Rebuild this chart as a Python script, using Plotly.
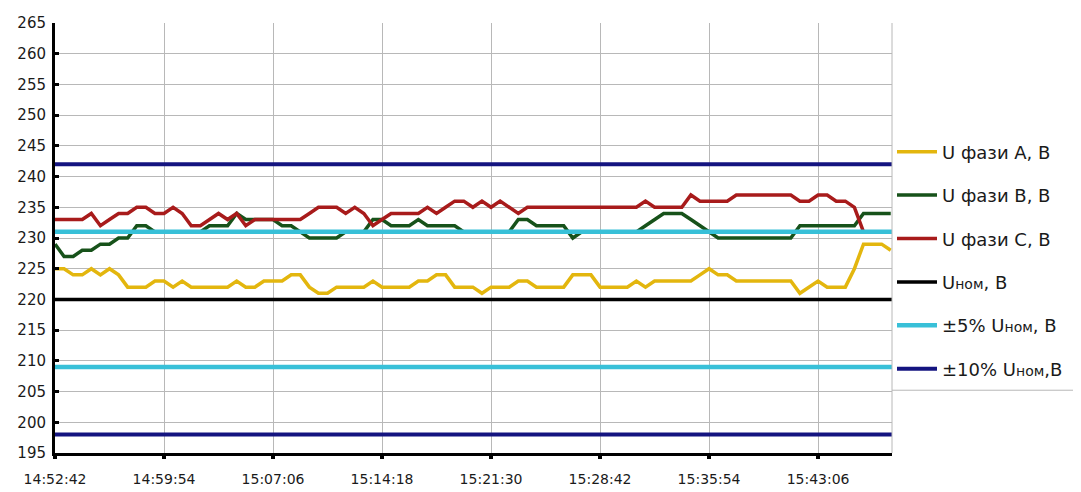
import plotly.graph_objects as go
import pandas as pd

# ---- data ----
START = "2021-01-01 14:52:42"
END = "2021-01-01 15:47:59"
STEP = "36s"

u_a = [225, 225, 224, 224, 225, 224, 225, 224, 222, 222,
       222, 223, 223, 222, 223, 222, 222, 222, 222, 222,
       223, 222, 222, 223, 223, 223, 224, 224, 222, 221,
       221, 222, 222, 222, 222, 223, 222, 222, 222, 222,
       223, 223, 224, 224, 222, 222, 222, 221, 222, 222,
       222, 223, 223, 222, 222, 222, 222, 224, 224, 224,
       222, 222, 222, 222, 223, 222, 223, 223, 223, 223,
       223, 224, 225, 224, 224, 223, 223, 223, 223, 223,
       223, 223, 221, 222, 223, 222, 222, 222, 225, 229,
       229, 229, 228]

u_b = [229, 227, 227, 228, 228, 229, 229, 230, 230, 232,
       232, 231, 231, 231, 231, 231, 231, 232, 232, 232,
       234, 233, 233, 233, 233, 232, 232, 231, 230, 230,
       230, 230, 231, 231, 231, 233, 233, 232, 232, 232,
       233, 232, 232, 232, 232, 231, 231, 231, 231, 231,
       231, 233, 233, 232, 232, 232, 232, 230, 231, 231,
       231, 231, 231, 231, 231, 232, 233, 234, 234, 234,
       233, 232, 231, 230, 230, 230, 230, 230, 230, 230,
       230, 230, 232, 232, 232, 232, 232, 232, 232, 234,
       234, 234, 234]

u_c = [233, 233, 233, 233, 234, 232, 233, 234, 234, 235,
       235, 234, 234, 235, 234, 232, 232, 233, 234, 233,
       234, 232, 233, 233, 233, 233, 233, 233, 234, 235,
       235, 235, 234, 235, 234, 232, 233, 234, 234, 234,
       234, 235, 234, 235, 236, 236, 235, 236, 235, 236,
       235, 234, 235, 235, 235, 235, 235, 235, 235, 235,
       235, 235, 235, 235, 235, 236, 235, 235, 235, 235,
       237, 236, 236, 236, 236, 237, 237, 237, 237, 237,
       237, 237, 236, 236, 237, 237, 236, 236, 235, 231,
       231, 231, 231]

U_NOM = 220
PCT5 = 0.05
PCT10 = 0.10

names = ["U фази А, В", "U фази В, В", "U фази С, В",
         "U<span style='font-size:14px'>ном</span>, В",
         "±5% U<span style='font-size:14px'>ном</span>, В",
         "±10% U<span style='font-size:14px'>ном</span>,В"]
colors = ["#E3B60E", "#17521A", "#A81B1B", "#000000", "#38C0D8", "#141480"]

y_ticks = list(range(195, 266, 5))

# ---- figure ----
times = pd.date_range(START, periods=len(u_a), freq=STEP)
x_ref = [pd.Timestamp(START), pd.Timestamp(END)]

fig = go.Figure()
for i, ser in enumerate([u_a, u_b, u_c]):
    fig.add_trace(go.Scatter(x=times, y=ser, mode="lines", name=names[i],
                             legendgroup=str(i),
                             line=dict(color=colors[i], width=3.5)))

up5, lo5 = round(U_NOM * (1 + PCT5)), round(U_NOM * (1 - PCT5))
up10, lo10 = round(U_NOM * (1 + PCT10)), round(U_NOM * (1 - PCT10))

fig.add_trace(go.Scatter(x=x_ref, y=[U_NOM, U_NOM], mode="lines", name=names[3],
                         legendgroup="3", line=dict(color=colors[3], width=3.5)))
fig.add_trace(go.Scatter(x=x_ref + [None] + x_ref, y=[up5, up5, None, lo5, lo5],
                         mode="lines", name=names[4], legendgroup="4",
                         line=dict(color=colors[4], width=4.5)))
fig.add_trace(go.Scatter(x=x_ref + [None] + x_ref, y=[up10, up10, None, lo10, lo10],
                         mode="lines", name=names[5], legendgroup="5",
                         line=dict(color=colors[5], width=4)))

fig.update_layout(
    width=1081, height=492,
    margin=dict(l=47, r=197, t=15, b=47, autoexpand=False),
    paper_bgcolor="white", plot_bgcolor="white",
    font=dict(family="DejaVu Sans", size=15, color="#1a1a1a"),
    showlegend=True,
    legend=dict(x=1.0, xanchor="left", y=0.743, yanchor="top",
                font=dict(family="DejaVu Sans", size=18, color="#1a1a1a"),
                tracegroupgap=17, itemwidth=40, bgcolor="rgba(0,0,0,0)"),
    xaxis=dict(type="date", range=x_ref, tick0=START, dtick=432000,
               tickformat="%H:%M:%S", showgrid=True, gridcolor="#b8b8b8",
               gridwidth=1, showline=True, linecolor="black", linewidth=3,
               ticks="outside", ticklen=3, tickwidth=4, tickcolor="black",
               tickfont=dict(size=14), ticklabelstandoff=8,
               zeroline=False, automargin=False),
    yaxis=dict(range=[195, 265], tickvals=y_ticks, showgrid=True,
               gridcolor="#b8b8b8", gridwidth=1, showline=True,
               linecolor="black", linewidth=3, ticks="inside", ticklen=4,
               tickwidth=3, tickcolor="black", tickfont=dict(size=15),
               ticklabelstandoff=3, zeroline=False, automargin=False),
    shapes=[
        dict(type="line", xref="paper", yref="paper", x0=1, x1=1, y0=0, y1=1,
             line=dict(color="#b8b8b8", width=1)),
        dict(type="line", xref="paper", yref="paper", x0=1, x1=1.22,
             y0=0.146, y1=0.146, line=dict(color="#b8b8b8", width=1)),
    ],
)

fig.write_html("out.html")
